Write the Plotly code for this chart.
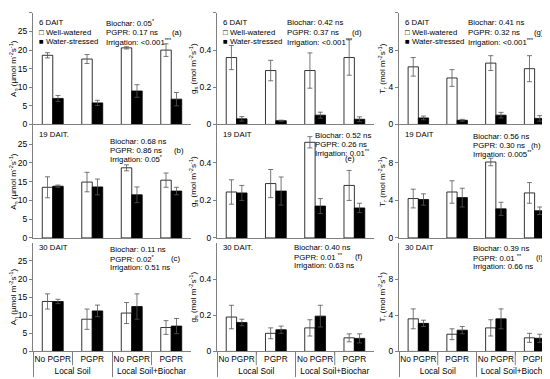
import plotly.graph_objects as go

# ---------------- data ----------------
soil = ["Local Soil", "Local Soil", "Local Soil+Biochar", "Local Soil+Biochar"]
pgpr = ["No PGPR", "PGPR", "No PGPR", "PGPR"]

# Net photosynthesis A_n (umol m-2 s-1)
an6_ww = [18.6, 17.6, 20.6, 20.0];  an6_ww_err = [0.7, 1.2, 0.3, 1.7]
an6_ws = [7.0, 5.8, 9.0, 6.8];      an6_ws_err = [0.8, 0.7, 1.7, 1.8]
an19_ww = [13.5, 14.9, 18.7, 15.4]; an19_ww_err = [2.8, 2.6, 0.8, 1.9]
an19_ws = [13.8, 13.6, 11.5, 12.5]; an19_ws_err = [0.3, 2.1, 2.1, 1.0]
an30_ww = [13.8, 8.9, 10.6, 6.6];   an30_ww_err = [2.1, 2.8, 2.9, 1.9]
an30_ws = [13.8, 11.2, 12.4, 7.0];  an30_ws_err = [0.6, 1.6, 3.5, 2.1]

# Stomatal conductance g_s (mol m-2 s-1)
gs6_ww = [0.36, 0.29, 0.29, 0.36];     gs6_ww_err = [0.065, 0.055, 0.095, 0.095]
gs6_ws = [0.030, 0.020, 0.050, 0.028]; gs6_ws_err = [0.012, 0.003, 0.016, 0.013]
gs19_ww = [0.245, 0.29, 0.51, 0.28];   gs19_ww_err = [0.065, 0.075, 0.03, 0.08]
gs19_ws = [0.24, 0.25, 0.17, 0.16];    gs19_ws_err = [0.04, 0.075, 0.04, 0.025]
gs30_ww = [0.19, 0.10, 0.13, 0.075];   gs30_ww_err = [0.065, 0.03, 0.045, 0.022]
gs30_ws = [0.16, 0.12, 0.195, 0.072];  gs30_ws_err = [0.018, 0.02, 0.06, 0.025]

# Transpiration T_r (mol m-2 s-1)
tr6_ww = [6.2, 5.0, 6.6, 6.0];    tr6_ww_err = [1.0, 0.9, 0.8, 1.4]
tr6_ws = [0.7, 0.45, 1.0, 0.65];  tr6_ws_err = [0.2, 0.1, 0.3, 0.3]
tr19_ww = [4.2, 4.9, 8.1, 4.8];   tr19_ww_err = [1.0, 1.2, 0.4, 1.1]
tr19_ws = [4.1, 4.3, 3.1, 2.9];   tr19_ws_err = [0.6, 1.0, 0.7, 0.4]
tr30_ww = [3.6, 1.9, 2.6, 1.5];   tr30_ww_err = [1.1, 0.6, 0.9, 0.5]
tr30_ws = [3.1, 2.35, 3.6, 1.45]; tr30_ws_err = [0.35, 0.4, 1.1, 0.45]

series_names = ["Well-watered", "Water-stressed"]
day_labels = [["6 DAIT", "6 DAIT", "6 DAIT"],
              ["19 DAIT.", "19 DAIT", "19 DAIT"],
              ["30 DAIT", "30 DAIT.", "30 DAIT"]]
stats_text = [
    [["Biochar: 0.05<sup>*</sup>", "PGPR: 0.17 ns", "Irrigation: <0.001<sup>***</sup>"],
     ["Biochar: 0.42 ns", "PGPR: 0.37 ns", "Irrigation: <0.001<sup>***</sup>"],
     ["Biochar: 0.41 ns", "PGPR: 0.32 ns", "Irrigation: <0.001<sup>***</sup>"]],
    [["Biochar: 0.68 ns", "PGPR: 0.86 ns", "Irrigation: 0.05<sup>*</sup>"],
     ["Biochar: 0.52 ns", "PGPR: 0.26 ns", "Irrigation: 0.01<sup>**</sup>"],
     ["Biochar: 0.56 ns", "PGPR: 0.30 ns", "Irrigation: 0.005<sup>**</sup>"]],
    [["Biochar: 0.11 ns", "PGPR: 0.02<sup>*</sup>", "Irrigation: 0.51 ns"],
     ["Biochar: 0.40 ns", "PGPR: 0.01 <sup>**</sup>", "Irrigation: 0.63 ns"],
     ["Biochar: 0.39 ns", "PGPR: 0.01 <sup>**</sup>", "Irrigation: 0.66 ns"]],
]
panel_letters = [["(a)", "(d)", "(g)"], ["(b)", "(e)", "(h)"], ["(c)", "(f)", "(i)"]]
y_titles = ["A<sub>n</sub> (µmol m<sup>-2</sup>s<sup>-1</sup>)",
            "g<sub>s</sub> (mol m<sup>-2</sup>s<sup>-1</sup>)",
            "T<sub>r</sub> (mol m<sup>-2</sup>s<sup>-1</sup>)"]
y_ranges = [[0, 30], [0, 0.6], [0, 12]]
y_ticks_top = [[0, 5, 10, 15, 20, 25, 30], [0, 0.2, 0.4, 0.6], [0, 4, 8, 12]]
y_ticks_low = [[0, 5, 10, 15, 20, 25], [0, 0.2, 0.4], [0, 4, 8]]
y_ticktext_top = [["0", "5", "10", "15", "20", "25", "30"], ["0", "0.2", "0.4", "0.6"], ["0", "4", "8", "12"]]
y_ticktext_low = [["0", "5", "10", "15", "20", "25"], ["0", "0.2", "0.4"], ["0", "4", "8"]]

panels = [
    [(an6_ww, an6_ww_err, an6_ws, an6_ws_err), (gs6_ww, gs6_ww_err, gs6_ws, gs6_ws_err), (tr6_ww, tr6_ww_err, tr6_ws, tr6_ws_err)],
    [(an19_ww, an19_ww_err, an19_ws, an19_ws_err), (gs19_ww, gs19_ww_err, gs19_ws, gs19_ws_err), (tr19_ww, tr19_ww_err, tr19_ws, tr19_ws_err)],
    [(an30_ww, an30_ww_err, an30_ws, an30_ws_err), (gs30_ww, gs30_ww_err, gs30_ws, gs30_ws_err), (tr30_ww, tr30_ww_err, tr30_ws, tr30_ws_err)],
]

# ---------------- layout geometry (pixels) ----------------
W, H = 550, 379
col_px = [(25, 183), (209, 366), (391, 546)]
row_px = [(5, 118), (119, 233), (238, 348)]
FONT = "Liberation Sans, Arial, sans-serif"
AXC = "#808080"
ANN_SIZE = 7.8

def px(x):
    return x / W

def py(y):
    return 1 - y / H

fig = go.Figure()
layout = dict(
    width=W, height=H, margin=dict(l=0, r=0, t=0, b=0),
    paper_bgcolor="white", plot_bgcolor="white",
    barmode="group", bargap=0.47, bargroupgap=0.0,
    showlegend=False, font=dict(family=FONT, size=8.5, color="black"),
)
annotations = []
shapes = []

for r in range(3):
    for c in range(3):
        k = r * 3 + c + 1
        xa = "x" if k == 1 else f"x{k}"
        ya = "y" if k == 1 else f"y{k}"
        ww, ww_e, ws, ws_e = panels[r][c]
        for vals, errs, fill, name in [(ww, ww_e, "white", series_names[0]),
                                       (ws, ws_e, "black", series_names[1])]:
            fig.add_trace(go.Bar(
                x=[soil, pgpr], y=vals, name=name, xaxis=xa, yaxis=ya,
                marker=dict(color=fill, line=dict(color="black", width=0.8)),
                error_y=dict(type="data", array=errs, visible=True,
                             color="#555555", thickness=0.8, width=2.5),
            ))
        x0, x1 = col_px[c]
        t, b = row_px[r]
        xkey = "xaxis" if k == 1 else f"xaxis{k}"
        ykey = "yaxis" if k == 1 else f"yaxis{k}"
        xaxis = dict(domain=[px(x0), px(x1)], anchor=ya, type="multicategory",
                     showline=True, linecolor=AXC, linewidth=1, showgrid=False,
                     zeroline=False)
        if r == 2:
            xaxis.update(showticklabels=True, ticks="outside", ticklen=3, tickcolor=AXC,
                         tickangle=0,
                         showdividers=True, dividercolor=AXC, dividerwidth=1,
                         tickfont=dict(size=8.3, color="black", family=FONT))
            # longer inner boundary ticks between "No PGPR" and "PGPR"
            for bnd in (0.5, 2.5):
                shapes.append(dict(type="line", xref=xa, yref="paper",
                                   x0=bnd, x1=bnd, y0=py(348), y1=py(362),
                                   line=dict(color=AXC, width=1)))
        else:
            xaxis.update(showticklabels=False, ticks="", showdividers=False)
        layout[xkey] = xaxis
        tv = y_ticks_top[c] if r == 0 else y_ticks_low[c]
        tt = y_ticktext_top[c] if r == 0 else y_ticktext_low[c]
        layout[ykey] = dict(
            domain=[py(b), py(t)], anchor=xa, range=y_ranges[c],
            showline=True, linecolor=AXC, linewidth=1, showgrid=False, zeroline=False,
            ticks="outside", ticklen=3, tickcolor=AXC, tickvals=tv, ticktext=tt,
            tickfont=dict(size=8.5, color="black", family=FONT),
            title=dict(text=y_titles[c], font=dict(size=8, family=FONT), standoff=1),
        )

# ---------------- text annotations (pixel positions) ----------------
def note(x, y, text, anchor="left", size=ANN_SIZE):
    annotations.append(dict(xref="paper", yref="paper", x=px(x), y=py(y), text=text,
                            showarrow=False, xanchor=anchor, yanchor="middle",
                            font=dict(size=size, family=FONT, color="black")))

stat_x = [[96, 277, 458], [100, 305, 463], [100, 284, 463]]
stat_y = [[[15, 25, 34]] * 3,
          [[135, 144, 153], [129, 138, 147], [130, 139, 148]],
          [[245, 254, 263], [243, 252, 261], [244, 253, 262]]]
lab_pos = [[(169, 25), (349, 25), (531, 25)],
           [(171, 144), (342, 153), (528, 139)],
           [(167, 254), (351, 252), (531, 253)]]
day_y = [15, 128, 243]

for r in range(3):
    for c in range(3):
        x0 = col_px[c][0]
        note(x0 + 4, day_y[r], day_labels[r][c])
        for i in range(3):
            note(stat_x[r][c], stat_y[r][c][i], stats_text[r][c][i])
        lx, ly = lab_pos[r][c]
        note(lx, ly, panel_letters[r][c], anchor="center")

for c in range(3):
    x0 = col_px[c][0]
    note(x0 + 4, 25, "□ " + series_names[0])
    note(x0 + 4, 34, "■ " + series_names[1])

layout["annotations"] = annotations
layout["shapes"] = shapes
fig.update_layout(**layout)
fig.write_html("out.html")
